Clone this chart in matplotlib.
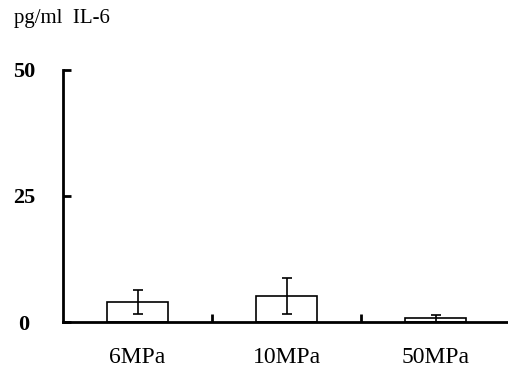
import matplotlib.pyplot as plt
import numpy as np

# Data
groups = ['6MPa', '10MPa', '50MPa']
il6 = [3.9, 5.1, 0.7]
err = [2.4, 3.6, 0.7]
yticks = [0, 25, 50]

plt.rcParams['font.family'] = ['Liberation Serif', 'DejaVu Serif']

fig = plt.figure(figsize=(5.08, 3.69), dpi=100)
ax = fig.add_axes([63 / 508, 47 / 369, 447 / 508, 252 / 369])

x = np.arange(len(groups))
ax.bar(x, il6, width=0.405, color='white', edgecolor='black', linewidth=1.2, zorder=2)
ax.errorbar(x, il6, yerr=err, fmt='none', ecolor='black', elinewidth=1.2,
            capsize=3.6, capthick=1.2, zorder=3)

ax.set_xlim(-0.5, 2.5)
ax.set_ylim(0, 50)
ax.set_yticks(yticks)
ax.set_yticklabels([str(v) for v in yticks], fontsize=16, fontweight='bold', ha='center')
ax.set_xticks(x)
ax.set_xticklabels(groups, fontsize=17)
ax.set_xticks([0.5, 1.5], minor=True)

ax.tick_params(axis='y', direction='in', length=6, width=2, pad=28)
ax.tick_params(axis='x', which='major', length=0, pad=18)
ax.tick_params(axis='x', which='minor', direction='in', length=6, width=2)

for s in ['top', 'right']:
    ax.spines[s].set_visible(False)
for s in ['left', 'bottom']:
    ax.spines[s].set_linewidth(2)

fig.text(14 / 508, 1 - 18 / 369, 'pg/ml  IL-6', fontsize=15, va='center', ha='left')

fig.savefig('out.png', dpi=100)
